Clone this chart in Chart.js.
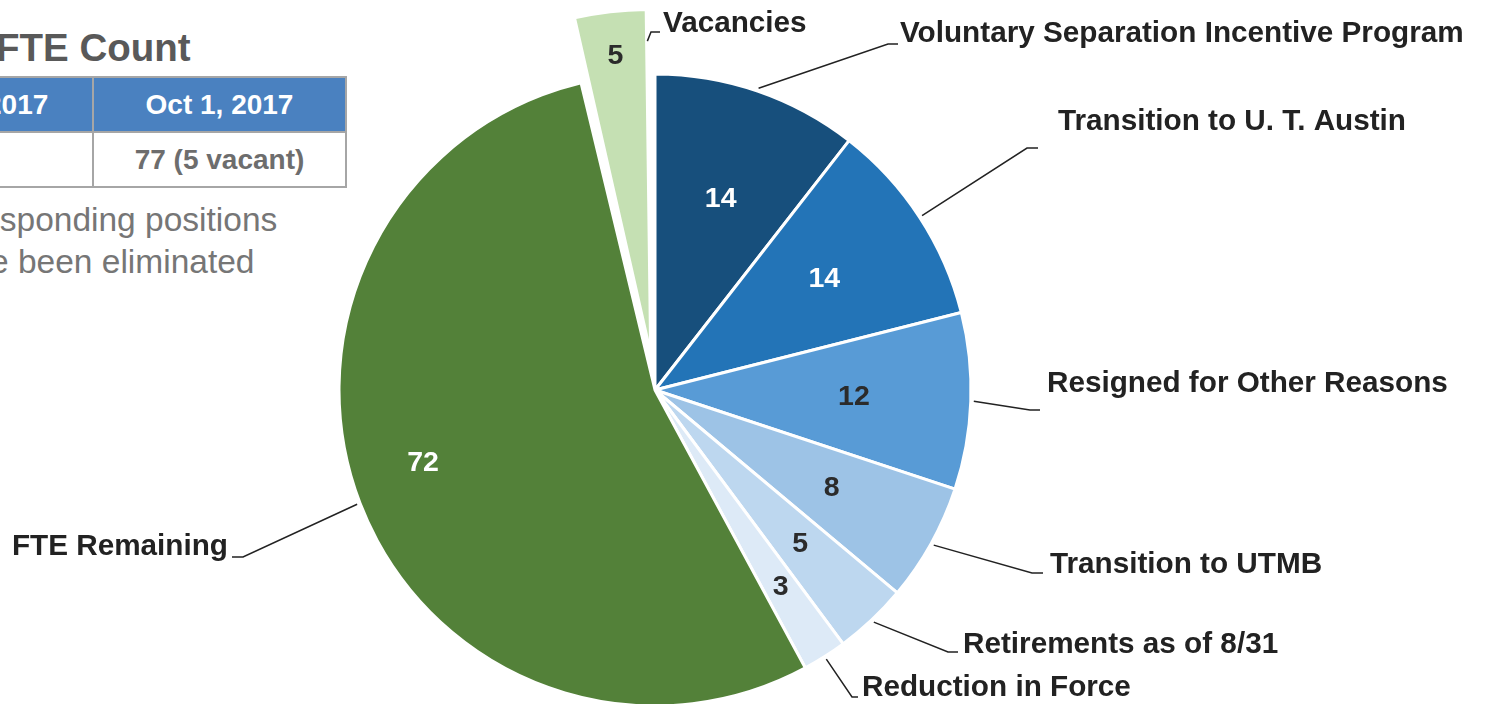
<!DOCTYPE html>
<html>
<head>
<meta charset="utf-8">
<script src="https://cdn.jsdelivr.net/npm/chart.js@4/dist/chart.umd.min.js"></script>
<style>
  html, body { margin: 0; padding: 0; background: #fff; }
  body { width: 1488px; height: 704px; overflow: hidden; position: relative; font-family: "Liberation Sans", Arial, sans-serif; }
  #pie { position: absolute; left: 0; top: 0; }
  .title { position: absolute; left: -4px; top: 24px; font-size: 38.5px; font-weight: 700; color: #595959; line-height: 48px; white-space: nowrap; }
  .fte-table { position: absolute; left: -150px; top: 76px; border-collapse: collapse; }
  .fte-table td { border: 2px solid #a6a6a6; height: 53px; padding: 0; text-align: center; font-size: 28px; font-weight: 700; white-space: nowrap; }
  .fte-table tr.head td { background: #4a81c0; color: #fff; }
  .fte-table tr.body td { color: #6d6d6d; }
  .note { position: absolute; font-size: 33.5px; color: #767676; white-space: nowrap; line-height: 42px; }
</style>
</head>
<body>
<div class="title">FTE Count</div>
<table class="fte-table">
  <tr class="head"><td style="width:240px">Sep 1, 2017</td><td style="width:251px">Oct 1, 2017</td></tr>
  <tr class="body"><td></td><td>77 (5 vacant)</td></tr>
</table>
<div class="note" style="left:-84px; top:199px;">Corresponding positions</div>
<div class="note" style="left:-64px; top:241px;">have been eliminated</div>
<canvas id="pie" width="1488" height="704"></canvas>
<script>
const categories = [
  'Voluntary Separation Incentive Program',
  'Transition to U. T. Austin',
  'Resigned for Other Reasons',
  'Transition to UTMB',
  'Retirements as of 8/31',
  'Reduction in Force',
  'FTE Remaining',
  'Vacancies'
];
const fteCounts = [14, 14, 12, 8, 5, 3, 72, 5];

// styling, kept apart from the data
const sliceColors = ['#174f7c', '#2374b7', '#589bd6', '#9dc3e6', '#bdd7ef', '#ddeaf7', '#538139', '#c5e0b3'];
const sliceOffsets = [0, 0, 0, 0, 0, 0, 0, 147];
const valueColors = ['#fff', '#fff', '#2b2b2b', '#2b2b2b', '#2b2b2b', '#2b2b2b', '#fff', '#2b2b2b'];
const valueRadius = [0.64, 0.64, 0.63, 0.64, 0.67, 0.74, 0.77, 0.86];
const valueTurn = [0, 0, 0, 0, 0, 0, 0.06, 0]; // radians, nudges a value label along its slice

// callout elbows and text anchors (px)
const callouts = [
  { elbow: [888, 44],  end: 898,  tx: 900,  ty: 34 },
  { elbow: [1027, 148], end: 1038, tx: 1058, ty: 122 },
  { elbow: [1030, 410], end: 1040, tx: 1047, ty: 384 },
  { elbow: [1032, 573], end: 1043, tx: 1050, ty: 565 },
  { elbow: [948, 652], end: 958,  tx: 963,  ty: 645 },
  { elbow: [852, 697], end: 858,  tx: 862,  ty: 688 },
  { elbow: [243, 557], end: 232,  tx: 228,  ty: 547, right: true },
  { elbow: [651, 32],  end: 660,  tx: 663,  ty: 24, edge: true }
];

const FONT = '"Liberation Sans", Arial, sans-serif';

// mirrors the translation ArcElement applies for an offset slice
function sliceShift(arc, i) {
  const off = sliceOffsets[i] / 4;
  if (!off) return [0, 0];
  const circ = arc.endAngle - arc.startAngle;
  const total = off * (1 + (1 - Math.sin(Math.min(Math.PI, circ))));
  const mid = (arc.startAngle + arc.endAngle) / 2;
  return [Math.cos(mid) * total, Math.sin(mid) * total];
}

const calloutPlugin = {
  id: 'callouts',
  afterDatasetsDraw(chart) {
    const ctx = chart.ctx;
    const meta = chart.getDatasetMeta(0);
    ctx.save();
    meta.data.forEach((arc, i) => {
      const [sx, sy] = sliceShift(arc, i);
      const cx = arc.x + sx, cy = arc.y + sy;
      const mid = (arc.startAngle + arc.endAngle) / 2;
      const R = arc.outerRadius;

      // value inside the slice
      const vr = R * valueRadius[i];
      const va = mid + valueTurn[i];
      ctx.fillStyle = valueColors[i];
      ctx.font = `bold 28.5px ${FONT}`;
      ctx.textAlign = 'center';
      ctx.textBaseline = 'middle';
      ctx.fillText(String(fteCounts[i]), cx + Math.cos(va) * vr, cy + Math.sin(va) * vr);

      // leader line
      const c = callouts[i];
      let p0;
      if (c.edge) {
        p0 = [cx + Math.cos(arc.endAngle) * R * 0.9, cy + Math.sin(arc.endAngle) * R * 0.9];
      } else {
        p0 = [cx + Math.cos(mid) * (R + 3), cy + Math.sin(mid) * (R + 3)];
      }
      ctx.strokeStyle = '#222';
      ctx.lineWidth = 1.5;
      ctx.beginPath();
      ctx.moveTo(p0[0], p0[1]);
      ctx.lineTo(c.elbow[0], c.elbow[1]);
      ctx.lineTo(c.end, c.elbow[1]);
      ctx.stroke();

      ctx.fillStyle = '#222';
      ctx.font = `bold 29.7px ${FONT}`;
      ctx.textAlign = c.right ? 'right' : 'left';
      ctx.fillText(categories[i], c.tx, c.ty);
    });
    ctx.restore();
  }
};

new Chart(document.getElementById('pie'), {
  type: 'pie',
  data: {
    labels: categories,
    datasets: [{
      data: fteCounts,
      backgroundColor: sliceColors,
      borderColor: '#fff',
      borderWidth: 3,
      offset: sliceOffsets,
      hoverOffset: 0
    }]
  },
  options: {
    responsive: false,
    animation: false,
    radius: 316,
    layout: { padding: { left: 0, right: 178, top: 76, bottom: 0 } },
    plugins: {
      legend: { display: false },
      tooltip: { enabled: false }
    },
    events: []
  },
  plugins: [calloutPlugin]
});
</script>
</body>
</html>
